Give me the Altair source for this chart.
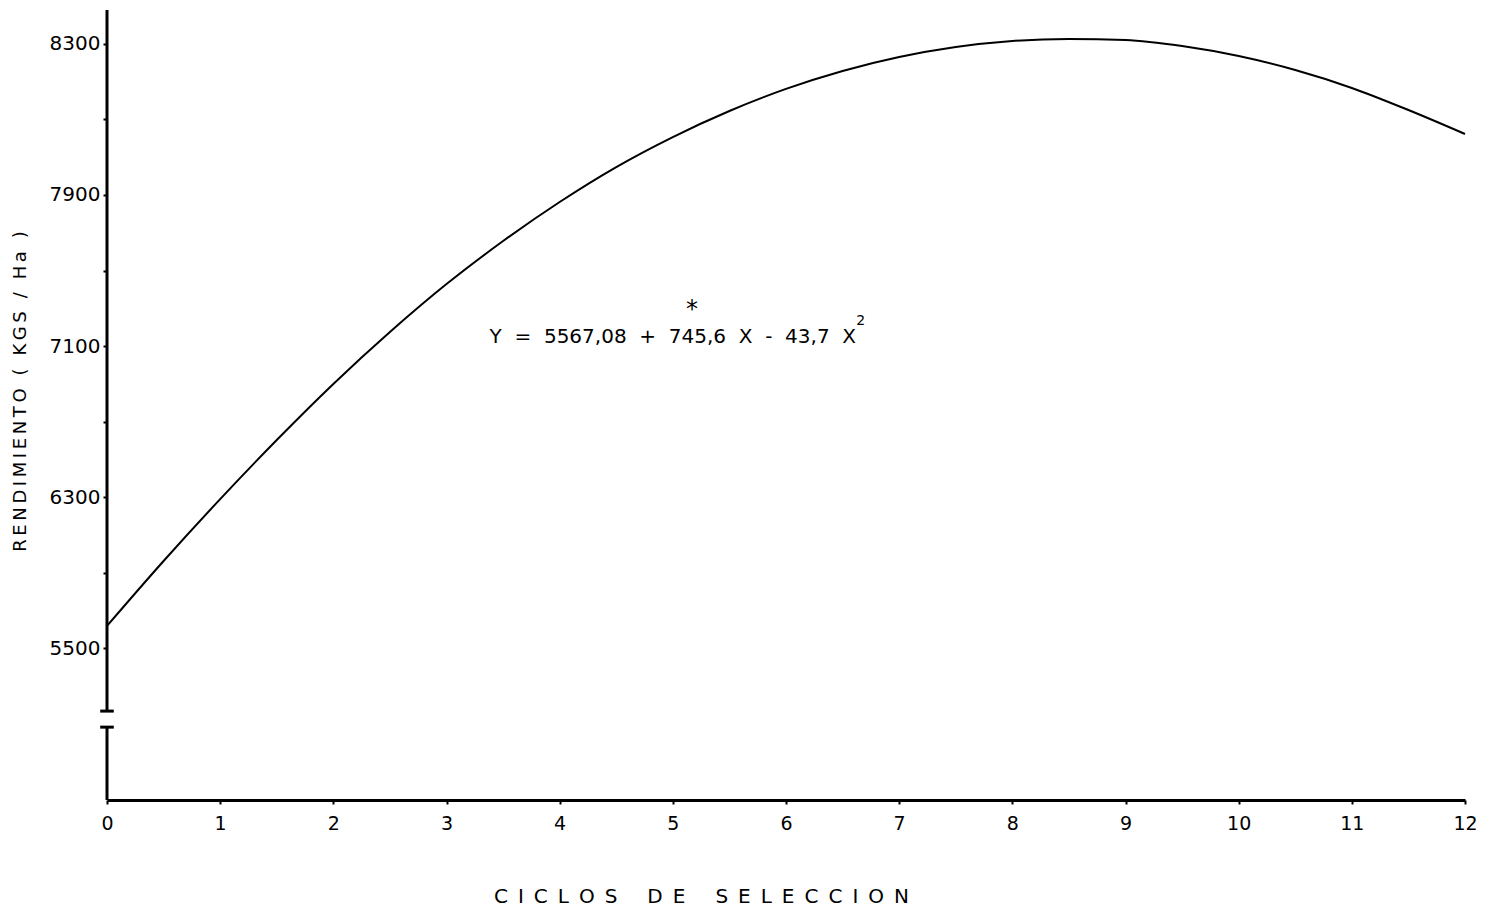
import altair as alt
import pandas as pd

# ---- data ----
ciclos = [0, 0.5, 1, 1.5, 2, 2.5, 3, 3.5, 4, 4.5, 5, 5.5, 6, 6.5, 7, 7.5, 8, 8.5, 9, 9.5, 10, 10.5, 11, 11.5, 12]
rendimiento = [5617, 5961, 6289, 6602, 6899, 7174, 7428, 7656, 7863, 8048, 8207, 8345, 8462, 8557,
               8631, 8684, 8716, 8727, 8721, 8689, 8636, 8562, 8467, 8350, 8223]

x_ticks = list(range(0, 13))
y_tick_values = [5500, 5900, 6300, 6700, 7100, 7500, 7900, 8300, 8700]
y_tick_labels = ["5500", "", "6300", "", "7100", "", "7900", "", "8300"]

y_axis_top = 8880
y_axis_bottom = 4695
axis_break = [5166, 5081]          # ends of the two y-axis segments at the break

NB = "\u00a0"
EN = "\u2002"
TH = "\u2009"

equation = f"Y {NB}={NB} 5567,08 {NB}+{NB} 745,6 {NB}X {NB}-{NB} 43,7 {NB}X"
equation_pos = [3.38, 7116]
superscript = "2"
superscript_pos = [6.62, 7212]
asterisk = "*"
asterisk_pos = [5.17, 7292]

x_title_words = ["CICLOS", "DE", "SELECCION"]
y_title_text = "RENDIMIENTO ( KGS / Ha )"

x_title = (EN * 3).join(EN.join(list(w)) for w in x_title_words)
y_title = TH.join(list(y_title_text))

FONT = "DejaVu Sans"

# ---- build ----
df = pd.DataFrame({"x": ciclos, "y": rendimiento})

label_expr = "''"
for v, l in reversed(list(zip(y_tick_values, y_tick_labels))):
    label_expr = f"datum.value == {v} ? '{l}' : ({label_expr})"

xs = alt.Scale(domain=[0, 12], nice=False, zero=False)
ys = alt.Scale(domain=[y_axis_bottom, y_axis_top], nice=False, zero=False)

x_axis = alt.Axis(
    values=x_ticks, format="d", title=x_title, grid=False,
    domain=True, domainColor="black", domainWidth=3,
    ticks=True, tickColor="black", tickSize=4, tickWidth=2,
    labelFont=FONT, labelFontSize=19, labelColor="black", labelPadding=10,
    titleFont=FONT, titleFontSize=20, titleFontWeight="normal", titleColor="black",
    titleX=594, titleY=96, titleAlign="center", titleBaseline="middle",
    labelFlush=False,
)
y_axis = alt.Axis(
    values=y_tick_values, labelExpr=label_expr, title=y_title, grid=False,
    domain=False, ticks=True, tickColor="black", tickSize=4, tickWidth=2,
    labelFont=FONT, labelFontSize=20, labelColor="black", labelPadding=3,
    titleFont=FONT, titleFontSize=18, titleFontWeight="normal", titleColor="black",
    titleX=-87, titleY=381, titleAngle=270, titleAlign="center", titleBaseline="middle",
)


def X(field):
    return alt.X(field, type="quantitative", scale=xs, axis=x_axis)


def Y(field):
    return alt.Y(field, type="quantitative", scale=ys, axis=y_axis)


curve = alt.Chart(df).mark_line(color="black", strokeWidth=2, interpolate="monotone").encode(
    x=X("x"), y=Y("y"),
)

axis_df = pd.DataFrame({"x": [0, 0], "y": axis_break, "y2": [y_axis_top, y_axis_bottom]})
axis_line = alt.Chart(axis_df).mark_rule(color="black", strokeWidth=3).encode(
    x=X("x"), y=Y("y"), y2="y2:Q",
)

caps_df = pd.DataFrame({"x": [-0.06, -0.06], "x2": [0.06, 0.06], "y": axis_break})
caps = alt.Chart(caps_df).mark_rule(color="black", strokeWidth=3).encode(
    x=X("x"), x2="x2:Q", y=Y("y"),
)

txt_df = pd.DataFrame({"x": [equation_pos[0]], "y": [equation_pos[1]], "t": [equation]})
eq = alt.Chart(txt_df).mark_text(font=FONT, fontSize=20, align="left", baseline="alphabetic",
                                 color="black").encode(x=X("x"), y=Y("y"), text="t:N")

sup_df = pd.DataFrame({"x": [superscript_pos[0]], "y": [superscript_pos[1]], "t": [superscript]})
sup = alt.Chart(sup_df).mark_text(font=FONT, fontSize=14, align="left", baseline="alphabetic",
                                  color="black").encode(x=X("x"), y=Y("y"), text="t:N")

ast_df = pd.DataFrame({"x": [asterisk_pos[0]], "y": [asterisk_pos[1]], "t": [asterisk]})
ast = alt.Chart(ast_df).mark_text(font=FONT, fontSize=24, align="center", baseline="middle",
                                  color="black").encode(x=X("x"), y=Y("y"), text="t:N")

chart = alt.layer(curve, axis_line, caps, eq, sup, ast).properties(
    width=1358, height=790,
    autosize=alt.AutoSizeParams(type="none"),
    padding={"left": 99, "top": 2, "right": 21, "bottom": 112},
    background="white",
).configure_view(stroke=None)

chart.save("out.html", embed_options={"renderer": "svg", "actions": False})
